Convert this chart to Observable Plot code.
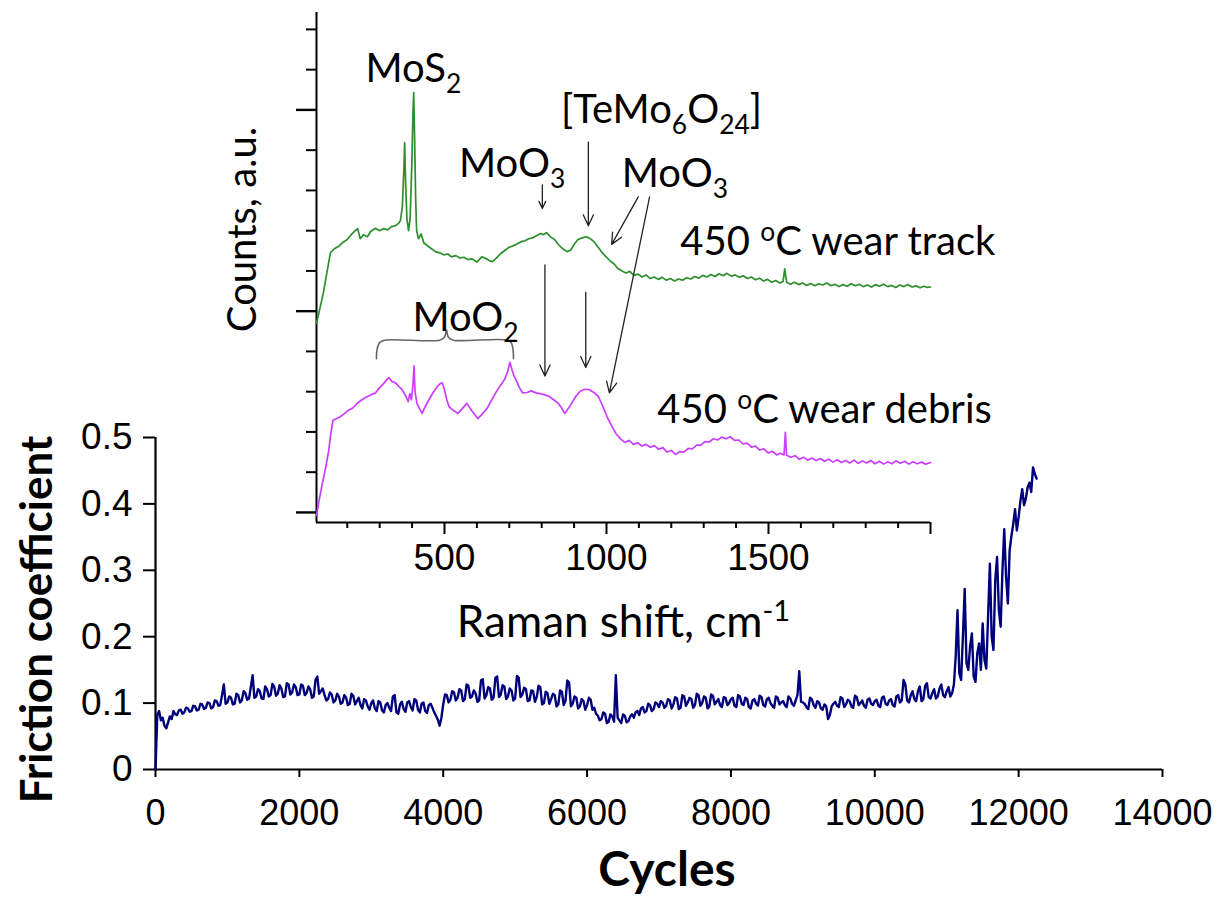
<!DOCTYPE html>
<html><head><meta charset="utf-8">
<script src="https://cdn.jsdelivr.net/npm/d3@7"></script>
<script src="https://cdn.jsdelivr.net/npm/@observablehq/plot@0.6"></script>
<style>
html,body{margin:0;padding:0;background:#fff;}
#wrap{position:relative;width:1219px;height:901px;overflow:hidden;}
#wrap svg{position:absolute;left:0;top:0;overflow:visible;}
</style></head><body><div id="wrap"></div>
<script>
// ---------- Main chart data: friction coefficient sampled every 25 cycles ----------
const cycleStep = 25;
const friction = [
  0.000,0.082,0.088,0.074,0.078,0.066,0.062,0.071,0.080,0.076,0.088,0.083,0.082,0.089,0.090,0.084,0.086,0.093,0.092,0.087,0.088,0.096,0.095,0.089,0.090,0.099,0.098,0.091,0.093,0.101,0.100,0.092,0.094,0.104,0.103,0.096,0.097,0.112,0.128,0.099,
  0.101,0.110,0.108,0.098,0.099,0.114,0.112,0.101,0.104,0.118,0.115,0.105,0.107,0.124,0.142,0.108,0.110,0.121,0.118,0.107,0.106,0.125,0.121,0.110,0.112,0.129,0.125,0.111,0.114,0.127,0.122,0.109,0.110,0.130,0.128,0.113,0.116,0.128,0.124,0.112,
  0.113,0.128,0.126,0.112,0.115,0.125,0.121,0.108,0.110,0.135,0.140,0.114,0.118,0.122,0.112,0.104,0.106,0.116,0.113,0.101,0.104,0.114,0.110,0.099,0.101,0.112,0.108,0.097,0.099,0.114,0.111,0.098,0.103,0.108,0.097,0.092,0.106,0.104,0.095,0.090,
  0.100,0.104,0.092,0.088,0.103,0.101,0.089,0.086,0.097,0.100,0.093,0.088,0.110,0.112,0.086,0.084,0.098,0.102,0.091,0.087,0.101,0.103,0.094,0.089,0.106,0.104,0.090,0.086,0.099,0.101,0.088,0.085,0.097,0.099,0.093,0.086,0.081,0.075,0.066,0.078,
  0.098,0.113,0.112,0.101,0.105,0.118,0.116,0.104,0.108,0.121,0.119,0.103,0.106,0.128,0.126,0.108,0.110,0.119,0.115,0.102,0.104,0.134,0.136,0.107,0.112,0.124,0.122,0.105,0.108,0.138,0.140,0.109,0.113,0.127,0.125,0.106,0.110,0.122,0.119,0.104,
  0.107,0.141,0.138,0.109,0.113,0.123,0.121,0.103,0.104,0.119,0.118,0.102,0.109,0.126,0.124,0.098,0.100,0.117,0.115,0.099,0.106,0.114,0.112,0.095,0.098,0.119,0.117,0.097,0.104,0.134,0.131,0.095,0.099,0.110,0.108,0.092,0.095,0.106,0.103,0.090,
  0.097,0.108,0.105,0.090,0.093,0.084,0.081,0.074,0.076,0.086,0.084,0.070,0.072,0.083,0.080,0.072,0.142,0.078,0.074,0.070,0.083,0.081,0.071,0.073,0.080,0.083,0.078,0.086,0.088,0.082,0.092,0.094,0.086,0.088,0.099,0.097,0.088,0.091,0.101,0.099,
  0.094,0.103,0.101,0.093,0.096,0.106,0.104,0.092,0.098,0.109,0.107,0.091,0.093,0.112,0.110,0.096,0.101,0.108,0.106,0.093,0.097,0.114,0.112,0.096,0.100,0.110,0.108,0.092,0.095,0.113,0.111,0.098,0.102,0.106,0.097,0.094,0.109,0.108,0.097,0.100,
  0.106,0.108,0.096,0.094,0.112,0.110,0.099,0.097,0.108,0.106,0.094,0.092,0.104,0.106,0.099,0.096,0.111,0.109,0.097,0.095,0.106,0.108,0.100,0.096,0.093,0.110,0.108,0.098,0.101,0.103,0.097,0.094,0.110,0.107,0.099,0.096,0.104,0.112,0.148,0.102,
  0.101,0.099,0.094,0.091,0.108,0.106,0.097,0.093,0.103,0.101,0.092,0.090,0.098,0.095,0.076,0.082,0.095,0.099,0.102,0.096,0.094,0.109,0.107,0.094,0.098,0.105,0.103,0.095,0.093,0.111,0.109,0.097,0.100,0.104,0.096,0.093,0.105,0.107,0.099,0.097,
  0.103,0.105,0.096,0.094,0.108,0.110,0.099,0.097,0.104,0.106,0.097,0.095,0.110,0.112,0.101,0.104,0.135,0.128,0.104,0.101,0.112,0.118,0.106,0.103,0.118,0.125,0.103,0.106,0.126,0.130,0.109,0.107,0.115,0.121,0.107,0.110,0.122,0.128,0.112,0.109,
  0.118,0.124,0.110,0.115,0.128,0.170,0.240,0.145,0.135,0.200,0.272,0.160,0.150,0.185,0.205,0.140,0.132,0.175,0.190,0.150,0.220,0.165,0.152,0.230,0.310,0.200,0.180,0.285,0.320,0.240,0.215,0.300,0.362,0.290,0.250,0.330,0.352,0.370,0.392,0.360,
  0.380,0.405,0.422,0.398,0.408,0.425,0.432,0.418,0.455,0.445,0.438
];
const cycleTicks = [0,2000,4000,6000,8000,10000,12000,14000];
const frictionTicks = [0,0.1,0.2,0.3,0.4,0.5];

// ---------- Inset data: Raman spectra ----------
const trackShift = [105,115,126,137,148,160,175,188,200,212,222,232,240,250,262,272,287,298,312,325,336,348,358,364,370,375,377,380,384,389,394,399,403,405,408,411,414,420,428,436,448,460,472,485,498,510,522,535,548,560,572,585,600,615,630,640,648,660,672,685,698,710,722,735,748,760,772,785,797,805,815,828,840,852,865,878,890,902,912,925,938,950,962,975,988,1000,1012,1023,1035,1048,
  1060,1072,1085,1097,1110,1122,1135,1147,1160,1172,1185,1197,1210,1222,1235,1247,1260,1272,1285,1297,1310,1322,1335,1347,1360,1372,1385,1397,1410,1422,1435,1447,1460,1472,1485,1497,1510,1522,1535,1545,1550,1556,1568,1580,1593,1605,1618,1630,1643,1655,1668,1680,1693,1705,1718,1730,1743,1755,1768,1780,1793,1805,1818,1830,1843,1855,1868,1880,1893,1905,1918,1930,1943,1955,1968,1980,1990,2000];
const trackCounts = [4.70,5.05,5.45,5.95,6.45,6.55,6.62,6.72,6.78,6.90,6.98,7.05,6.80,6.90,6.85,6.98,7.06,7.00,7.05,7.02,7.10,7.12,7.18,7.25,7.60,8.60,9.19,8.20,7.30,7.00,7.30,8.60,10.00,10.43,9.20,7.80,7.00,6.80,6.92,6.70,6.62,6.55,6.48,6.45,6.40,6.42,6.35,6.38,6.32,6.34,6.28,6.30,6.22,6.35,6.30,6.25,6.23,6.32,6.42,6.50,6.58,6.62,6.66,6.72,6.75,6.80,6.82,6.88,6.93,6.90,6.95,6.84,6.78,6.65,6.55,6.48,6.52,6.68,6.78,6.82,6.85,6.80,6.72,6.58,6.44,6.34,6.24,6.18,6.06,6.00,
  5.95,5.99,5.89,5.92,5.85,5.90,5.81,5.85,5.79,5.84,5.77,5.81,5.75,5.80,5.77,5.83,5.80,5.86,5.82,5.89,5.85,5.91,5.86,5.93,5.88,5.94,5.87,5.90,5.84,5.88,5.81,5.85,5.78,5.82,5.75,5.79,5.72,5.76,5.70,5.74,6.05,5.72,5.67,5.72,5.66,5.70,5.64,5.69,5.63,5.68,5.65,5.70,5.63,5.67,5.61,5.66,5.62,5.68,5.63,5.67,5.61,5.65,5.60,5.66,5.62,5.67,5.61,5.64,5.59,5.65,5.61,5.66,5.60,5.63,5.58,5.62,5.59,5.60];
const debrisShift = [105,113,122,128,135,142,149,156,165,177,190,204,218,232,245,258,272,287,300,312,322,328,338,349,360,369,380,388,393,398,403,406,409,415,423,431,440,452,465,479,487,493,500,507,514,525,541,555,569,585,603,617,631,645,658,672,686,695,702,708,714,720,730,741,755,768,782,795,810,823,837,851,861,871,882,892,905,919,933,947,961,975,988,1002,1016,1030,1044,
  1057,1070,1083,1096,1109,1122,1135,1148,1161,1174,1187,1200,1213,1226,1239,1252,1265,1278,1291,1304,1317,1330,1343,1356,1369,1382,1395,1408,1421,1434,1447,1460,1473,1486,1499,1512,1525,1538,1548,1552,1556,1569,1582,1595,1608,1621,1634,1647,1660,1673,1686,1699,1712,1725,1738,1751,1764,1777,1790,1803,1816,1829,1842,1855,1868,1881,1894,1907,1920,1933,1946,1959,1972,1985,2000];
const debrisCounts = [-0.08,0.30,0.68,0.90,1.19,1.50,1.95,2.29,2.32,2.37,2.45,2.54,2.60,2.72,2.80,2.86,2.92,2.97,3.10,3.20,3.30,3.35,3.25,3.22,3.12,3.05,2.90,2.75,2.95,2.80,3.20,3.64,3.00,2.71,2.58,2.46,2.62,2.80,2.98,3.14,3.20,3.22,3.05,2.80,2.63,2.55,2.46,2.58,2.71,2.52,2.33,2.45,2.58,2.78,2.97,3.15,3.31,3.50,3.73,3.55,3.40,3.31,3.12,2.97,2.98,3.02,2.97,2.95,2.92,2.88,2.80,2.71,2.60,2.46,2.58,2.71,2.88,3.01,3.06,3.05,2.98,2.88,2.65,2.37,2.15,1.95,1.82,
  1.74,1.79,1.69,1.73,1.65,1.69,1.62,1.66,1.57,1.61,1.50,1.54,1.44,1.51,1.50,1.59,1.58,1.67,1.67,1.76,1.75,1.83,1.80,1.87,1.83,1.88,1.79,1.80,1.70,1.72,1.62,1.65,1.55,1.58,1.48,1.52,1.43,1.47,1.43,1.99,1.42,1.37,1.41,1.32,1.37,1.30,1.35,1.29,1.34,1.27,1.32,1.25,1.31,1.24,1.29,1.23,1.30,1.22,1.28,1.23,1.29,1.21,1.27,1.20,1.26,1.21,1.28,1.22,1.27,1.20,1.26,1.21,1.25,1.20,1.24];
const ramanMajorTicks = [500,1000,1500,2000];
const ramanMinorTicks = [200,300,400,600,700,800,900,1100,1200,1300,1400,1600,1700,1800,1900];
const countMajorTicks = [0,5,10];
const countMinorTicks = [1,2,3,4,6,7,8,9,11,12];

// annotations (inset data coordinates)
const centeredLabels = ["MoS_{2}","[TeMo_{6}O_{24}]","MoO_{3}","MoO_{3}","MoO_{2}"];
const centeredX = [404,1170,709,1211,565];
const centeredY = [11.02,10.0,8.65,8.40,4.83];
const sampleLabels = ["450 ^{o}C wear track","450 ^{o}C wear debris"];
const sampleX = [1228,1157];
const sampleY = [6.71,2.53];
const arrowX1 = [802,944,1098,1133,810,936];
const arrowY1 = [8.14,9.20,7.84,7.84,6.15,5.47];
const arrowX2 = [802,944,1016,1009,810,936];
const arrowY2 = [7.55,7.12,6.66,2.97,3.39,3.60];
const braceX = [290,292,300,315,485,500,506,512,527,695,707,712,713];
const braceY = [3.82,4.05,4.22,4.28,4.28,4.35,4.54,4.35,4.28,4.28,4.20,4.00,3.82];

const mainData = friction.map((v,i)=>({c:i*cycleStep, f:v}));
const track = trackShift.map((x,i)=>({x, y:trackCounts[i]}));
const debris = debrisShift.map((x,i)=>({x, y:debrisCounts[i]}));
const arrows = arrowX1.map((x,i)=>({x1:x, y1:arrowY1[i], x2:arrowX2[i], y2:arrowY2[i]}));
const brace = braceX.map((x,i)=>({x, y:braceY[i]}));
const centered = centeredLabels.map((t,i)=>({t, x:centeredX[i], y:centeredY[i]}));
const samples = sampleLabels.map((t,i)=>({t, x:sampleX[i], y:sampleY[i]}));

const NUM_FONT = "'Liberation Sans Narrow','Arial Narrow','Liberation Sans',Arial,sans-serif";
const TXT_FONT = "Lato,'Open Sans',sans-serif";

const main = Plot.plot({
  width: 1219, height: 901,
  marginLeft: 155, marginRight: 57, marginTop: 437, marginBottom: 132,
  style: {background: "transparent", fontFamily: NUM_FONT, color: "#000"},
  x: {domain: [0, 14000]},
  y: {domain: [0, 0.5]},
  marks: [
    Plot.axisX({ticks: cycleTicks, tickSize: 8, tickPadding: 22, tickFormat: d => String(d), fontSize: 36, label: null, strokeWidth: 2}),
    Plot.axisY({ticks: frictionTicks, tickSize: 12, tickPadding: 11, tickFormat: d => d === 0 ? "0" : d.toFixed(1), fontSize: 37, label: null, strokeWidth: 2}),
    Plot.ruleY([0], {stroke: "#000", strokeWidth: 2.2}),
    Plot.ruleX([0], {stroke: "#000", strokeWidth: 2.2}),
    Plot.line(mainData, {x: "c", y: "f", stroke: "#00007b", strokeWidth: 2.4}),
    Plot.text(["Friction coefficient"], {frameAnchor: "left", textAnchor: "middle", lineAnchor: "middle", rotate: -90, dx: -118, dy: 16, fontSize: 44, fontWeight: "bold", fontFamily: TXT_FONT, fill: "#000"}),
    Plot.text(["Cycles"], {frameAnchor: "bottom", textAnchor: "middle", lineAnchor: "middle", dx: 8, dy: 101, fontSize: 48, fontWeight: "bold", fontFamily: TXT_FONT, fill: "#000"})
  ]
});

const inset = Plot.plot({
  width: 1219, height: 901,
  marginLeft: 316, marginRight: 289, marginTop: 12, marginBottom: 379,
  style: {background: "transparent", fontFamily: NUM_FONT, color: "#000", overflow: "visible"},
  x: {domain: [105, 2000]},
  y: {domain: [-0.25, 12.42]},
  marks: [
    Plot.axisX({ticks: ramanMinorTicks, tickSize: 6, tickFormat: () => "", label: null, strokeWidth: 2}),
    Plot.axisX({ticks: ramanMajorTicks, tickSize: 12, tickPadding: 9, tickFormat: d => d === 2000 ? "" : String(d), fontSize: 37, label: null, strokeWidth: 2}),
    Plot.axisY({ticks: countMinorTicks, tickSize: 10, tickFormat: () => "", label: null, strokeWidth: 2}),
    Plot.axisY({ticks: countMajorTicks, tickSize: 20, tickFormat: () => "", label: null, strokeWidth: 2.4}),
    Plot.ruleY([-0.25], {stroke: "#000", strokeWidth: 2}),
    Plot.ruleX([105], {stroke: "#000", strokeWidth: 2}),
    Plot.line(track, {x: "x", y: "y", stroke: "#2b8f2b", strokeWidth: 1.7}),
    Plot.line(debris, {x: "x", y: "y", stroke: "#cc3dff", strokeWidth: 1.7}),
    Plot.arrow(arrows, {x1: "x1", y1: "y1", x2: "x2", y2: "y2", stroke: "#222", strokeWidth: 1.3, headLength: 14, headAngle: 50}),
    Plot.line(brace, {x: "x", y: "y", stroke: "#666", strokeWidth: 1.6, curve: "catmull-rom"}),
    Plot.text(centered, {x: "x", y: "y", text: "t", fontSize: 40, fontFamily: TXT_FONT, fill: "#000"}),
    Plot.text(samples, {x: "x", y: "y", text: "t", textAnchor: "start", fontSize: 40, fontFamily: TXT_FONT, fill: "#000"}),
    Plot.text(["Counts, a.u."], {frameAnchor: "left", textAnchor: "middle", lineAnchor: "middle", rotate: -90, dx: -73, dy: -38, fontSize: 40, fontFamily: TXT_FONT, fill: "#000"}),
    Plot.text(["Raman shift, cm^{-1}"], {frameAnchor: "bottom", textAnchor: "middle", lineAnchor: "middle", dx: 0, dy: 100, fontSize: 44, fontFamily: TXT_FONT, fill: "#000"})
  ]
});

// rich text: _{sub} and ^{sup}
function richText(svg) {
  svg.querySelectorAll("text").forEach(t => {
    const s = t.textContent;
    if (!/[_^]\{/.test(s)) return;
    const host = t.closest("[font-size]");
    const fs = host ? parseFloat(host.getAttribute("font-size")) : 30;
    t.textContent = "";
    const re = /([_^])\{([^}]*)\}|([^_^]+)/g;
    let m, shift = 0;
    while ((m = re.exec(s))) {
      const ts = document.createElementNS("http://www.w3.org/2000/svg", "tspan");
      if (m[1]) {
        const target = m[1] === "_" ? fs * 0.28 : -fs * 0.36;
        ts.setAttribute("dy", (target - shift).toFixed(2));
        shift = target;
        ts.setAttribute("font-size", (fs * 0.66).toFixed(1));
        ts.textContent = m[2];
      } else {
        ts.setAttribute("dy", (-shift).toFixed(2));
        shift = 0;
        ts.textContent = m[3];
      }
      t.appendChild(ts);
    }
  });
}
richText(inset);

const wrap = document.getElementById("wrap");
wrap.appendChild(main);
wrap.appendChild(inset);
</script></body></html>
